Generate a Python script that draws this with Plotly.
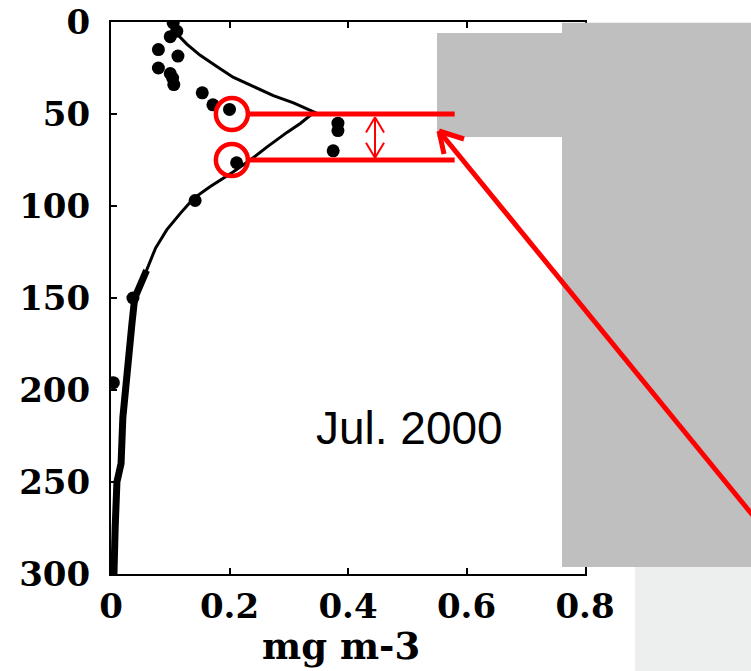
import plotly.graph_objects as go

# ---- data ----
curve_depth = [2, 8, 12, 18, 24, 30, 35, 40, 44, 47, 49, 55, 60, 68, 75, 81.5, 89.5, 96, 104, 113, 123, 135, 150]
curve_chl = [0.105, 0.116, 0.128, 0.15, 0.178, 0.206, 0.24, 0.274, 0.308, 0.33, 0.343, 0.32, 0.297, 0.263, 0.235,
             0.206, 0.167, 0.139, 0.117, 0.094, 0.075, 0.06, 0.038]
deep_depth = [135, 150, 165, 180, 200, 215, 240, 250, 275, 300]
deep_chl = [0.06, 0.04, 0.035, 0.03, 0.025, 0.02, 0.017, 0.01, 0.007, 0.005]
obs_depth = [0.5, 5, 8, 15, 18.5, 25, 28, 30.5, 34, 38.5, 45, 47.5, 55, 59, 70, 76.5, 97, 150, 196]
obs_chl = [0.105, 0.111, 0.1, 0.08, 0.113, 0.08, 0.1, 0.104, 0.106, 0.154, 0.172, 0.2, 0.383, 0.383, 0.375,
           0.212, 0.142, 0.037, 0.004]
x_ticks = [0, 0.2, 0.4, 0.6, 0.8]
x_ticklabels = ["0", "0.2", "0.4", "0.6", "0.8"]
y_ticks = [0, 50, 100, 150, 200, 250, 300]
y_ticklabels = ["0", "50", "100", "150", "200", "250", "300"]
x_title = "mg m-3"
label_text = "Jul. 2000"
dcm_depths = [50, 75]
dcm_chl = 0.204

# ---- layout geometry (pixels) ----
W, H = 751, 671
L, R, T, B = 111, 585, 22, 574


def px(x):
    return (x - L) / (R - L)


def py(y):
    return (B - y) / (B - T)


fig = go.Figure()
fig.add_trace(go.Scatter(x=curve_chl, y=curve_depth, mode="lines",
                         line=dict(color="black", width=3), showlegend=False))
fig.add_trace(go.Scatter(x=deep_chl, y=deep_depth, mode="lines",
                         line=dict(color="black", width=7), showlegend=False))
fig.add_trace(go.Scatter(x=obs_chl, y=obs_depth, mode="markers",
                         marker=dict(color="black", size=13, symbol="circle"), showlegend=False))

tickfont = dict(family="DejaVu Serif", size=34, color="black", weight="bold")
fig.update_xaxes(range=[0, 0.8], tickvals=x_ticks, ticktext=x_ticklabels, ticks="inside", ticklen=6,
                 tickwidth=2, tickcolor="black", showline=True, linecolor="black", linewidth=2,
                 mirror="ticks", showgrid=False, zeroline=False, tickfont=tickfont, ticklabelstandoff=1)
fig.update_yaxes(range=[300, 0], tickvals=y_ticks, ticktext=y_ticklabels, ticks="inside", ticklen=6,
                 tickwidth=2, tickcolor="black", showline=True, linecolor="black", linewidth=2,
                 mirror="ticks", showgrid=False, zeroline=False, tickfont=tickfont, ticklabelstandoff=12)

shapes = []
# grey overlay panels
shapes.append(dict(type="rect", xref="paper", yref="paper", x0=px(562), x1=px(760), y0=py(567), y1=py(22.8),
                   fillcolor="#bfbfbf", line=dict(width=0), layer="above"))
shapes.append(dict(type="rect", xref="paper", yref="paper", x0=px(437), x1=px(563), y0=py(137), y1=py(33),
                   fillcolor="#bfbfbf", line=dict(width=0), layer="above"))
shapes.append(dict(type="rect", xref="paper", yref="paper", x0=px(635), x1=px(760), y0=py(680), y1=py(567),
                   fillcolor="#edefee", line=dict(width=0), layer="above"))
# red markers of DCM layer
for d in dcm_depths:
    shapes.append(dict(type="line", xref="x", yref="y", x0=0.231, x1=0.58, y0=d, y1=d,
                       line=dict(color="#ff0000", width=5), layer="above"))
    shapes.append(dict(type="circle", xref="x", yref="y", x0=dcm_chl - 0.027, x1=dcm_chl + 0.027,
                       y0=d - 8.7, y1=d + 8.7, line=dict(color="#ff0000", width=4.5), layer="above"))
# double arrow
ax = 0.4456
top_tip, bot_tip = 51.8, 73.8
shapes.append(dict(type="line", xref="x", yref="y", x0=ax, x1=ax, y0=top_tip, y1=bot_tip,
                   line=dict(color="#ff0000", width=2), layer="above"))
for sx in (-0.0152, 0.0152):
    shapes.append(dict(type="line", xref="x", yref="y", x0=ax, x1=ax + sx, y0=top_tip, y1=top_tip + 8.2,
                       line=dict(color="#ff0000", width=2), layer="above"))
    shapes.append(dict(type="line", xref="x", yref="y", x0=ax, x1=ax + sx, y0=bot_tip, y1=bot_tip - 8.2,
                       line=dict(color="#ff0000", width=2), layer="above"))
# long arrow
shapes.append(dict(type="line", xref="paper", yref="paper", x0=px(755), y0=py(518), x1=px(439), y1=py(131),
                   line=dict(color="#ff0000", width=5), layer="above"))
shapes.append(dict(type="line", xref="paper", yref="paper", x0=px(439), y0=py(131), x1=px(464), y1=py(139),
                   line=dict(color="#ff0000", width=5), layer="above"))
shapes.append(dict(type="line", xref="paper", yref="paper", x0=px(439), y0=py(131), x1=px(444), y1=py(154),
                   line=dict(color="#ff0000", width=5), layer="above"))

annotations = [
    dict(text=label_text, xref="paper", yref="paper", x=px(409), y=py(428), showarrow=False,
         xanchor="center", yanchor="middle", font=dict(family="Liberation Sans", size=46, color="black")),
    dict(text=x_title, xref="paper", yref="paper", x=px(341), y=py(646), showarrow=False,
         xanchor="center", yanchor="middle",
         font=dict(family="DejaVu Serif", size=37, color="black", weight="bold")),
]

fig.update_layout(width=W, height=H, margin=dict(l=L, r=W - R, t=T, b=H - B, autoexpand=False),
                  paper_bgcolor="white", plot_bgcolor="white", shapes=shapes, annotations=annotations)

fig.write_html("out.html")
